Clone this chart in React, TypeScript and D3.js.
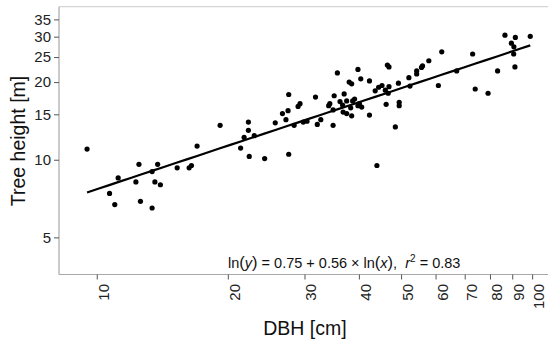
import React, { useEffect, useRef } from 'react';
import * as d3 from 'd3';

// DBH [cm] and tree height [m]
const dbh = [
  9.5, 10.7, 11.0, 11.2, 12.3, 12.5, 12.6, 13.4, 13.4, 13.6, 13.8, 14.0, 15.3, 16.3, 16.5, 17.0, 19.2,
  21.4, 21.8, 22.3, 22.3, 22.4, 23.0, 24.3, 25.7, 26.7, 27.2, 27.5, 27.6, 27.6, 28.4, 29.0, 29.3, 29.8,
  30.4, 31.8, 32.1, 32.7,
  34.1, 34.3, 34.9, 34.9, 35.1, 35.7, 36.2, 36.7, 36.8, 37.0, 37.5, 37.5, 38.0, 38.5, 38.3, 38.5, 38.7,
  39.1, 39.8, 39.8, 40.1, 40.4, 40.6, 42.3, 42.3, 43.6, 44.4, 45.2, 46.0, 46.9, 46.7, 46.5, 46.9, 46.2,
  44.0, 48.5, 49.3, 49.5, 49.5,
  52.1, 52.4, 54.3, 54.3, 55.7, 56.0, 57.9, 60.9, 62.0, 67.1, 73.0, 74.0, 79.2, 83.3, 86.6, 89.6, 90.8,
  90.7, 91.5, 91.3, 99.0,
];
const height = [
  11.0, 7.4, 6.7, 8.5, 8.2, 9.6, 6.9, 9.0, 6.5, 8.2, 9.6, 8.0, 9.3, 9.3, 9.5, 11.3, 13.6,
  11.1, 12.2, 14.0, 13.0, 10.3, 12.4, 10.1, 13.9, 15.1, 14.3, 15.5, 10.5, 17.9, 13.6, 16.1, 16.5, 14.0,
  14.1, 17.5, 13.7, 14.3,
  16.2, 16.5, 15.6, 13.6, 17.7, 21.7, 16.8, 16.3, 15.3, 18.0, 16.9, 15.1, 20.0, 19.7, 15.9, 14.8, 16.9,
  17.2, 22.4, 16.2, 16.5, 20.6, 16.0, 20.2, 14.9, 18.5, 19.1, 19.4, 18.6, 19.2, 18.1, 23.3, 22.9, 16.4,
  9.5, 13.4, 19.8, 16.7, 16.2,
  20.8, 19.3, 22.1, 21.5, 22.8, 23.1, 24.2, 19.4, 26.2, 22.1, 25.7, 18.8, 18.1, 22.1, 30.4, 28.3, 27.4,
  25.7, 29.8, 22.9, 30.1,
];

const xTicks = [10, 20, 30, 40, 50, 60, 70, 80, 90, 100];
const yTicks = [5, 10, 15, 20, 25, 30, 35];

// fitted model: ln(y) = 0.75 + 0.56 ln(x)
const intercept = 0.75;
const slope = 0.56;

const W = 548;
const H = 342;
const font = '"Liberation Sans", Arial, sans-serif';

const App = () => {
  const ref = useRef<SVGSVGElement>(null);

  useEffect(() => {
    const svg = d3.select(ref.current);
    svg.selectAll('*').remove();

    const left = 59, right = 548, top = 6.7, bottom = 274.5;
    const x = d3.scaleLog().domain([8.19, 107.6]).range([left, 546]);
    const y = d3.scaleLog().domain([3.59, 39.2]).range([bottom, top]);

    // panel frame
    svg.append('line')
      .attr('x1', left).attr('x2', right).attr('y1', top).attr('y2', top)
      .attr('stroke', '#d4d4d4').attr('stroke-width', 1.2);

    const yAxis = svg.append('g')
      .attr('transform', `translate(${left},0)`)
      .call(d3.axisLeft(y).tickValues(yTicks).tickFormat(d3.format('d')).tickSizeOuter(0).tickSize(5).tickPadding(3));
    yAxis.select('.domain').attr('stroke', '#a8a8a8').attr('stroke-width', 1.2)
      .attr('d', `M0,${bottom}V${top}`);
    yAxis.selectAll('.tick line').attr('stroke', '#555');
    yAxis.selectAll('.tick text')
      .attr('font-family', font).attr('font-size', 15).attr('fill', '#222');

    const xAxis = svg.append('g')
      .attr('transform', `translate(0,${bottom})`)
      .call(d3.axisBottom(x).tickValues(xTicks).tickFormat(d3.format('d')).tickSizeOuter(0).tickSize(5));
    xAxis.select('.domain').attr('stroke', '#a8a8a8').attr('stroke-width', 1.2)
      .attr('d', `M${left},0H${right}`);
    xAxis.selectAll('.tick line').attr('stroke', '#555');
    xAxis.selectAll('.tick text')
      .attr('font-family', font).attr('font-size', 15).attr('fill', '#222')
      .attr('text-anchor', 'end')
      .attr('y', 0).attr('dy', 0)
      .attr('transform', 'translate(11.5,9.5) rotate(-90)');

    // regression line over the data range
    const xr = d3.extent(dbh) as [number, number];
    const fit = d3.range(0, 41).map((i) => {
      const xv = Math.exp(Math.log(xr[0]) + (i / 40) * (Math.log(xr[1]) - Math.log(xr[0])));
      return [xv, Math.exp(intercept + slope * Math.log(xv))];
    });
    svg.append('path')
      .datum(fit)
      .attr('fill', 'none').attr('stroke', '#000').attr('stroke-width', 2.2)
      .attr('d', d3.line<number[]>().x((d) => x(d[0])).y((d) => y(d[1])));

    svg.append('g')
      .selectAll('circle')
      .data(dbh.map((d, i) => [d, height[i]]))
      .enter()
      .append('circle')
      .attr('cx', (d) => x(d[0]))
      .attr('cy', (d) => y(d[1]))
      .attr('r', 2.6)
      .attr('fill', '#000');

    // equation label
    const eq = svg.append('text')
      .attr('x', 228).attr('y', 268)
      .attr('font-family', font).attr('font-size', 14.5).attr('fill', '#111')
      .style('white-space', 'pre');
    eq.append('tspan').text('ln');
    eq.append('tspan').attr('font-size', 16.5).text('(');
    eq.append('tspan').attr('font-style', 'italic').text('y');
    eq.append('tspan').attr('font-size', 16.5).text(')');
    eq.append('tspan').text(' = 0.75 + 0.56 × ln');
    eq.append('tspan').attr('font-size', 16.5).text('(');
    eq.append('tspan').attr('font-style', 'italic').text('x');
    eq.append('tspan').attr('font-size', 16.5).text(')');
    eq.append('tspan').text(',  ');
    eq.append('tspan').attr('font-style', 'italic').text('r');
    eq.append('tspan').attr('font-size', 10).attr('dy', -6).text('2');
    eq.append('tspan').attr('dy', 6).text(' = 0.83');

    // axis titles
    svg.append('text')
      .attr('x', 305).attr('y', 335)
      .attr('text-anchor', 'middle')
      .attr('font-family', font).attr('font-size', 19.5).attr('fill', '#111')
      .text('DBH [cm]');
    svg.append('text')
      .attr('transform', 'translate(25,141) rotate(-90)')
      .attr('text-anchor', 'middle')
      .attr('font-family', font).attr('font-size', 19.5).attr('fill', '#111')
      .text('Tree height [m]');
  }, []);

  return (
    <svg
      ref={ref}
      width={W}
      height={H}
      style={{ position: 'absolute', left: 0, top: 0, background: '#fff' }}
    />
  );
};

export default App;
